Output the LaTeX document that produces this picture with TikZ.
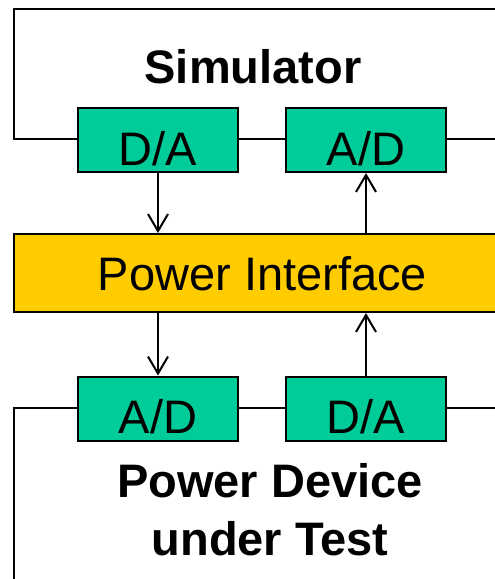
\documentclass[tikz,border=0pt]{standalone}
\usepackage{fontspec}
\setmainfont{Liberation Sans}
\usetikzlibrary{arrows.meta}
\definecolor{convgreen}{RGB}{0,204,153}
\definecolor{piyellow}{RGB}{255,204,0}
\begin{document}
\begin{tikzpicture}[x=1pt,y=-1pt,
  bigfont/.style={font=\fontsize{47}{56}\selectfont},
  conv/.style={draw=black,line width=2pt,fill=convgreen,minimum width=160pt,minimum height=64pt,inner sep=0pt,bigfont,text depth=0pt},
  wire/.style={line width=2pt},
  sig/.style={line width=2pt,-{Straight Barb[length=17pt,width=20pt]}},
  title/.style={anchor=base,inner sep=0pt,font=\bfseries\fontsize{47}{56}\selectfont}
]
\useasboundingbox (0,0) rectangle (495,579);
\clip (0,0) rectangle (495,579);
% simulator
\node[title] (sim) at (253,83) {Simulator};
\node[conv,text height=50pt] (da1) at (158,140) {D/A};
\node[conv,text height=50pt] (ad1) at (366,140) {A/D};
\coordinate (simtr) at (520,9);
\coordinate (simtl) at (14,9);
\coordinate (simbl) at (14,139);
\coordinate (simbr) at (520,139);
\draw[wire] (simtr) -- (simtl) -- (simbl) -- (da1.west |- simbl);
\draw[wire] (da1.east |- simbl) -- (ad1.west |- simbl);
\draw[wire] (ad1.east |- simbl) -- (simbr);
% power interface
\node[draw=black,line width=2pt,fill=piyellow,minimum width=497pt,minimum height=78pt,inner sep=0pt,bigfont,text height=34pt,text depth=0pt] (pi) at (262.5,273) {Power Interface};
% device under test
\node[conv,text height=49pt] (ad2) at (158,408.5) {A/D};
\node[conv,text height=49pt] (da2) at (366,408.5) {D/A};
\coordinate (dutbl) at (14,600);
\coordinate (duttl) at (14,408);
\coordinate (duttr) at (520,408);
\draw[wire] (ad2.west |- duttl) -- (duttl) -- (dutbl);
\draw[wire] (ad2.east |- duttl) -- (da2.west |- duttl);
\draw[wire] (da2.east |- duttl) -- (duttr);
\node[title] (dut1) at (270,497) {Power Device};
\node[title] (dut2) at (270,555) {under Test};
% signals
\draw[sig] (da1.south) -- (pi.north -| da1.south);
\draw[sig] (pi.north -| ad1.south) -- (ad1.south);
\draw[sig] (pi.south -| ad2.north) -- (ad2.north);
\draw[sig] (da2.north) -- (pi.south -| da2.north);
\end{tikzpicture}
\end{document}
